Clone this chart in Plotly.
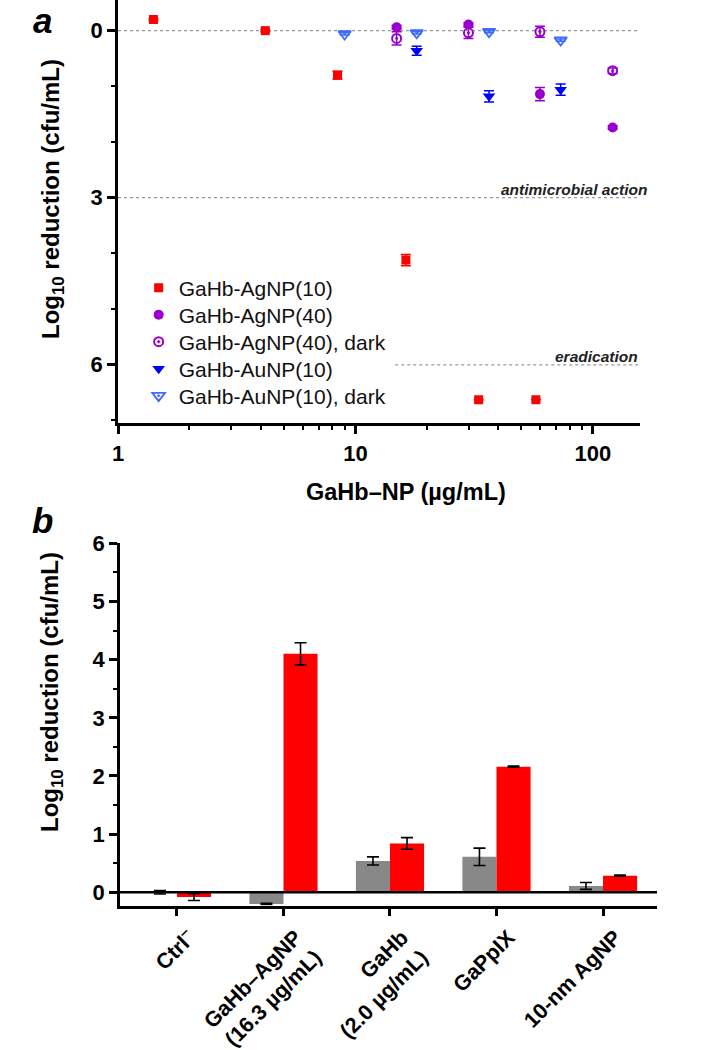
import plotly.graph_objects as go

# ---------------- Panel a data ----------------
agnp10_x = [1.41, 4.17, 8.4, 16.3, 33.0, 57.5]
agnp10_y = [-0.2, 0.0, 0.8, 4.12, 6.63, 6.63]
agnp10_e = [0.02, 0.02, 0.07, 0.1, 0.0, 0.0]

agnp40_x = [14.9, 29.9, 59.8, 121.0]
agnp40_y = [-0.06, -0.11, 1.14, 1.74]
agnp40_e = [0.03, 0.03, 0.12, 0.03]

agnp40d_x = [14.9, 29.9, 59.8, 121.0]
agnp40d_y = [0.14, 0.04, 0.02, 0.72]
agnp40d_e = [0.12, 0.1, 0.1, 0.05]

aunp10_x = [18.1, 36.5, 73.1]
aunp10_y = [0.36, 1.18, 1.06]
aunp10_e = [0.08, 0.1, 0.1]

aunp10d_x = [9.0, 18.1, 36.5, 73.1]
aunp10d_y = [0.06, 0.04, 0.02, 0.17]
aunp10d_e = [0.02, 0.02, 0.02, 0.02]

ref_lines = [0, 3, 6]
ref_starts = [1.0, 1.0, 14.7]
ref_labels = ["", "antimicrobial action", "eradication"]

# ---------------- Panel b data ----------------
categories = ["Ctrl<sup>–</sup>", "GaHb–AgNP<br>(16.3 µg/mL)", "GaHb<br>(2.0 µg/mL)",
              "GaPpIX", "10-nm AgNP"]
dark_vals = [0.0, -0.2, 0.54, 0.61, 0.11]
dark_err = [0.03, 0.01, 0.07, 0.15, 0.06]
light_vals = [-0.08, 4.1, 0.84, 2.16, 0.285]
light_err = [0.06, 0.19, 0.1, 0.01, 0.01]

FONT = "Arial, Liberation Sans, sans-serif"
RED = "#FF0000"
PURPLE = "#9900CC"
BLUE = "#0000FF"
LBLUE = "#3D6BFF"
GRAY = "#888888"

W, H = 711, 1050

fig = go.Figure()

def eb(vals, color):
    return dict(type="data", array=vals, visible=True, color=color, thickness=1.5, width=5)

fig.add_trace(go.Scatter(x=agnp10_x, y=agnp10_y, mode="markers", name="GaHb-AgNP(10)",
                         marker=dict(symbol="square", size=9, color=RED), legend="legend",
                         error_y=eb(agnp10_e, RED), xaxis="x", yaxis="y"))
fig.add_trace(go.Scatter(x=agnp40_x, y=agnp40_y, mode="markers", name="GaHb-AgNP(40)",
                         marker=dict(symbol="circle", size=10, color=PURPLE), legend="legend2",
                         error_y=eb(agnp40_e, PURPLE), xaxis="x", yaxis="y"))
fig.add_trace(go.Scatter(x=agnp40d_x, y=agnp40d_y, mode="markers", name="GaHb-AgNP(40), dark",
                         marker=dict(symbol="circle-open-dot", size=9, color=PURPLE,
                                     line=dict(width=2, color=PURPLE)), legend="legend3",
                         error_y=eb(agnp40d_e, PURPLE), xaxis="x", yaxis="y"))
fig.add_trace(go.Scatter(x=aunp10_x, y=aunp10_y, mode="markers", name="GaHb-AuNP(10)",
                         marker=dict(symbol="triangle-down", size=11, color=BLUE), legend="legend4",
                         error_y=eb(aunp10_e, BLUE), xaxis="x", yaxis="y"))
fig.add_trace(go.Scatter(x=aunp10d_x, y=aunp10d_y, mode="markers", name="GaHb-AuNP(10), dark",
                         marker=dict(symbol="triangle-down-open-dot", size=11, color=LBLUE,
                                     line=dict(width=1.8, color=LBLUE)), legend="legend5",
                         error_y=eb(aunp10d_e, LBLUE), xaxis="x", yaxis="y"))

# reference lines
XMAX_A = 158
for yv, xs, lab in zip(ref_lines, ref_starts, ref_labels):
    fig.add_shape(type="line", xref="x", yref="y", x0=xs, x1=XMAX_A, y0=yv, y1=yv,
                  line=dict(color="#999999", width=1.3, dash="dot"), layer="below")
    if lab:
        fig.add_annotation(x=1, xref="x domain", y=yv, yref="y", text="<b><i>" + lab + "</i></b>",
                           showarrow=False, xanchor="right", yanchor="bottom",
                           xshift=9 if yv == 3 else 0, yshift=-2,
                           font=dict(family=FONT, size=15.5, color="#222222"))

# ---------------- Panel b traces ----------------
fig.add_trace(go.Bar(x=categories, y=dark_vals, name="dark", showlegend=False,
                     marker=dict(color=GRAY, line=dict(width=0)),
                     error_y=dict(type="data", array=dark_err, visible=True, color="black",
                                  thickness=1.6, width=6),
                     xaxis="x2", yaxis="y2"))
fig.add_trace(go.Bar(x=categories, y=light_vals, name="light", showlegend=False,
                     marker=dict(color=RED, line=dict(width=0)),
                     error_y=dict(type="data", array=light_err, visible=True, color="black",
                                  thickness=1.6, width=6),
                     xaxis="x2", yaxis="y2"))

# zero line of panel b (slightly extends left of the axis, as in the reference)
fig.add_shape(type="line", xref="x2 domain", yref="y2", x0=-0.013, x1=1, y0=0, y1=0,
              line=dict(color="black", width=2.5), layer="above")

axfont = dict(family=FONT, size=22, color="black")
legfont = dict(family=FONT, size=21, color="#111111")

def leg(ypix):
    return dict(x=0.195, y=1 - ypix / H, xanchor="left", yanchor="middle", font=legfont,
                bgcolor="rgba(0,0,0,0)", itemwidth=30, borderwidth=0)

fig.update_layout(
    width=W, height=H, margin=dict(l=0, r=0, t=0, b=0, autoexpand=False),
    paper_bgcolor="white", plot_bgcolor="white",
    font=dict(family=FONT, color="black"),
    barmode="group", bargap=0.36, bargroupgap=0.0,
    showlegend=True,
    legend=leg(288), legend2=leg(315), legend3=leg(342), legend4=leg(369), legend5=leg(396),
    xaxis=dict(type="log", domain=[118 / W, 640 / W], range=[0, 2.198],
               anchor="y", showline=True, linecolor="black", linewidth=2.5,
               ticks="outside", ticklen=9, tickwidth=2.5, tickcolor="black",
               tickvals=[1, 10, 100], ticktext=["<b>1</b>", "<b>10</b>", "<b>100</b>"],
               tickfont=axfont, showgrid=False, zeroline=False, automargin=False,
               minor=dict(tickvals=[2, 3, 4, 5, 6, 7, 8, 9, 20, 30, 40, 50, 60, 70, 80, 90],
                          ticks="outside", ticklen=5, tickwidth=2, tickcolor="black", showgrid=False)),
    yaxis=dict(domain=[1 - 422.7 / H, 1.0], range=[7.04, -0.55], anchor="x",
               showline=True, linecolor="black", linewidth=2.5,
               ticks="outside", ticklen=8, tickwidth=2.5, tickcolor="black",
               tickvals=[0, 3, 6], ticktext=["<b>0</b>", "<b>3</b>", "<b>6</b>"],
               tickfont=axfont, showgrid=False, zeroline=False, automargin=False,
               minor=dict(tickvals=[1, 2, 4, 5, 7], ticks="outside", ticklen=4, tickwidth=2,
                          tickcolor="black", showgrid=False)),
    xaxis2=dict(domain=[120 / W, 657 / W], range=[-0.535, 4.507], anchor="y2",
                showline=True, linecolor="black", linewidth=2.5,
                ticks="outside", ticklen=8, tickwidth=2.5, tickcolor="black",
                tickangle=-45, tickfont=dict(family=FONT, size=21.5, color="black"),
                ticklabelshift=12,
                showgrid=False, zeroline=False, automargin=False,
                tickmode="array", tickvals=categories,
                ticktext=["<b>" + c + "</b>" for c in categories]),
    yaxis2=dict(domain=[1 - 905.7 / H, 1 - 543.3 / H], range=[-0.23, 6.0], anchor="x2",
                showline=True, linecolor="black", linewidth=2.5,
                ticks="outside", ticklen=8, tickwidth=2.5, tickcolor="black",
                tickvals=[0, 1, 2, 3, 4, 5, 6],
                ticktext=["<b>%d</b>" % v for v in range(7)],
                tickfont=axfont, showgrid=False, automargin=False, zeroline=False,
                minor=dict(dtick=0.5, ticks="outside", ticklen=4, tickwidth=2,
                           tickcolor="black", showgrid=False)),
)

# x-axis title of panel a
fig.add_annotation(x=406 / W, y=1 - 492 / H, xref="paper", yref="paper",
                   text="<b>GaHb–NP (µg/mL)</b>", showarrow=False,
                   xanchor="center", yanchor="middle",
                   font=dict(family=FONT, size=23.5, color="black"))

# y-axis titles (placed as in the reference, slightly above the panel centre)
for yc in [199, 692]:
    fig.add_annotation(x=52 / W, y=1 - yc / H, xref="paper", yref="paper",
                       text="<b>Log<sub>10</sub> reduction (cfu/mL)</b>", textangle=-90,
                       showarrow=False, xanchor="center", yanchor="middle",
                       font=dict(family=FONT, size=24, color="black"))

# panel letters
fig.add_annotation(x=42 / W, y=1.0, xref="paper", yref="paper", text="<b><i>a</i></b>",
                   showarrow=False, xanchor="center", yanchor="top", borderpad=0,
                   font=dict(family=FONT, size=35, color="black"))
fig.add_annotation(x=42 / W, y=1 - 520 / H, xref="paper", yref="paper", text="<b><i>b</i></b>",
                   showarrow=False, xanchor="center", yanchor="middle",
                   font=dict(family=FONT, size=35, color="black"))

fig.write_html("out.html", config={"displayModeBar": False},
               post_script="document.body.style.margin='0';document.body.style.overflow='hidden';")
